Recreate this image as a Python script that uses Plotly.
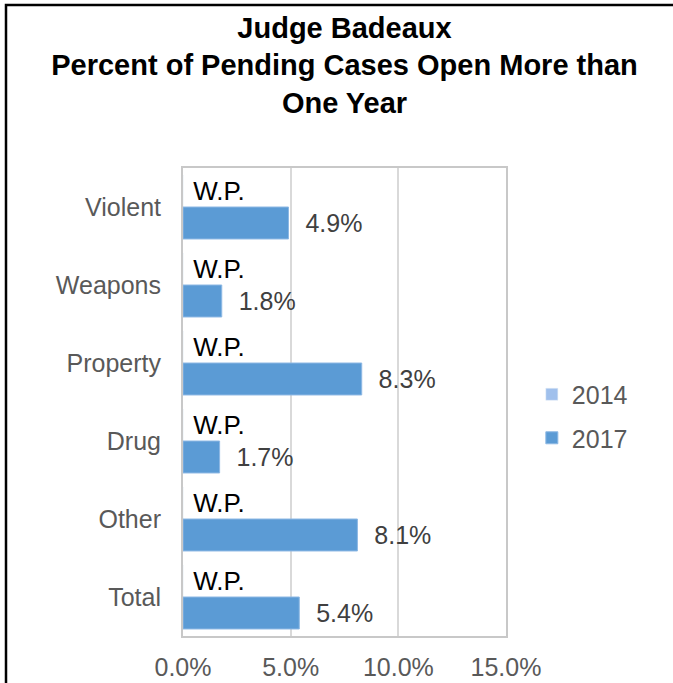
import plotly.graph_objects as go

categories = ["Violent", "Weapons", "Property", "Drug", "Other", "Total"]
series_names = ["2014", "2017"]
values_2014 = [0, 0, 0, 0, 0, 0]
labels_2014 = ["W.P.", "W.P.", "W.P.", "W.P.", "W.P.", "W.P."]
values_2017 = [0.049, 0.018, 0.083, 0.017, 0.081, 0.054]
x_ticks = [0.0, 0.05, 0.10, 0.15]
x_tick_labels = ["0.0%", "5.0%", "10.0%", "15.0%"]

FONT = "Liberation Sans, Arial, sans-serif"
GREY = "#595959"

fig = go.Figure()
fig.add_trace(go.Bar(
    y=categories, x=values_2014, name=series_names[0], orientation="h",
    marker=dict(color="#A0C0EC"), text=labels_2014, textposition="outside",
    texttemplate="\u00a0%{text}",
    textfont=dict(family=FONT, size=26, color="#000000"),
    cliponaxis=False, legendgroup="a",
))
fig.add_trace(go.Bar(
    y=categories, x=values_2017, name=series_names[1], orientation="h",
    marker=dict(color="#5B9BD5", line=dict(color="#8DB8E4", width=1)),
    texttemplate="\u00a0\u00a0%{x:.1%}", textposition="outside",
    textfont=dict(family=FONT, size=25, color="#404040"),
    cliponaxis=False, legendgroup="b",
))

fig.update_layout(
    width=673, height=683,
    margin=dict(l=183, r=167, t=168, b=47, autoexpand=False),
    paper_bgcolor="white", plot_bgcolor="white",
    barmode="group", bargap=0.18, bargroupgap=0,
    font=dict(family=FONT, size=25, color=GREY),
    title=dict(
        text="<b>Judge Badeaux<br>Percent of Pending Cases Open More than<br>One Year</b>",
        x=0.5, xref="paper", xanchor="center",
        y=0.945, yref="container", yanchor="top",
        font=dict(family=FONT, size=29, color="#000000"),
    ),
    legend=dict(
        x=1.08, xanchor="left", y=0.47, yanchor="middle",
        font=dict(family=FONT, size=25, color=GREY),
        traceorder="grouped", tracegroupgap=8,
        bgcolor="rgba(0,0,0,0)",
    ),
    xaxis=dict(
        range=[0, 0.15], tickvals=x_ticks, ticktext=x_tick_labels,
        showgrid=True, gridcolor="#D9D9D9", gridwidth=2,
        showline=True, linecolor="#C8C8C8", linewidth=2, mirror=True,
        zeroline=False, ticks="", ticklabelstandoff=8, automargin=False,
        tickfont=dict(family=FONT, size=25, color=GREY),
    ),
    yaxis=dict(
        autorange="reversed", type="category",
        showgrid=False, showline=True, linecolor="#C8C8C8", linewidth=2, mirror=True,
        ticks="", ticklabelstandoff=15, automargin=False,
        tickfont=dict(family=FONT, size=25, color=GREY),
    ),
    shapes=[dict(
        type="rect", xref="paper", yref="paper",
        x0=(6 - 183) / 323, x1=(690 - 183) / 323,
        y0=(636 - 700) / 468, y1=(636 - 5) / 468,
        line=dict(color="#000000", width=2.5), fillcolor="rgba(0,0,0,0)", layer="below",
    )],
    showlegend=True,
)

fig.write_html("out.html", config={"displayModeBar": False},
               post_script="document.body.style.margin='0';")
